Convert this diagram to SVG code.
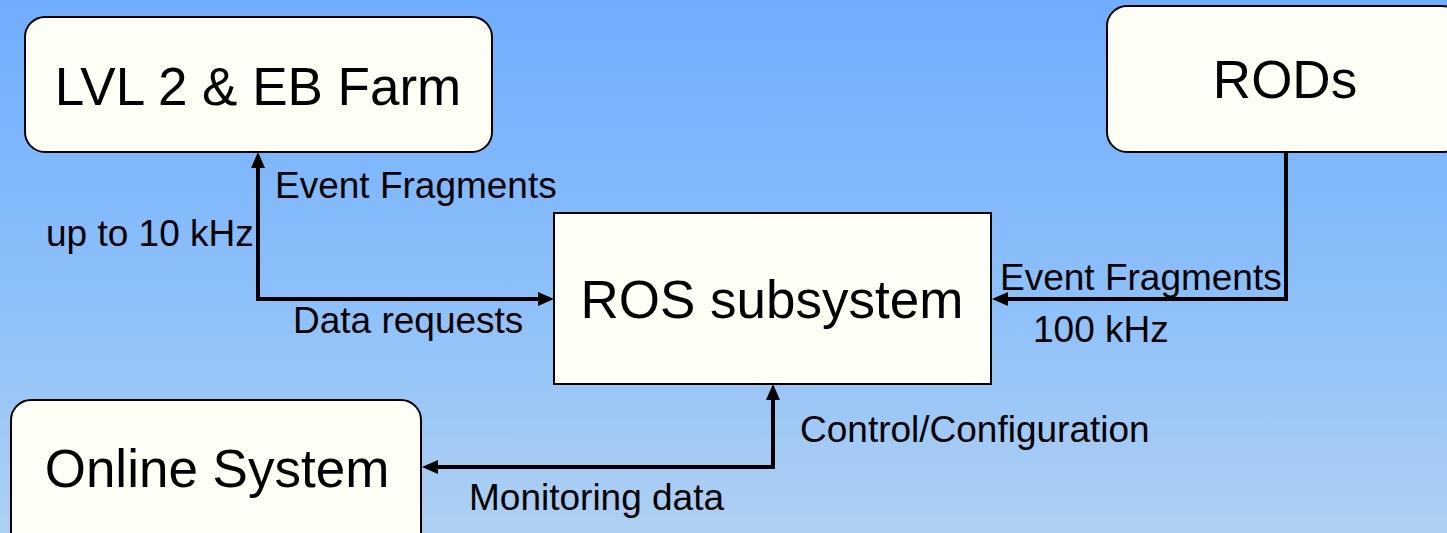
<svg xmlns="http://www.w3.org/2000/svg" width="1447" height="533" viewBox="0 0 1447 533">
<defs>
<linearGradient id="bg" x1="0" y1="0" x2="0" y2="1">
<stop offset="0" stop-color="#70adfe"/>
<stop offset="0.55" stop-color="#8cc0fa"/>
<stop offset="1" stop-color="#aed0f2"/>
</linearGradient>
<marker id="arr" markerUnits="userSpaceOnUse" markerWidth="16" markerHeight="15" refX="0" refY="7" orient="auto-start-reverse" viewBox="0 0 16 14">
<path d="M0,0 L16,7 L0,14 Z" fill="#000"/>
</marker>
<style>
.box{fill:#fffff6;stroke:#000;stroke-width:2}
.big{font-family:"Liberation Sans",Arial,sans-serif;font-size:53px;fill:#000;text-anchor:middle}
.lbl{font-family:"Liberation Sans",Arial,sans-serif;font-size:37px;fill:#000}
.con{fill:none;stroke:#000;stroke-width:4}
</style>
</defs>
<rect x="0" y="0" width="1447" height="533" fill="url(#bg)"/>
<g id="connectors">
<path class="con" d="M258,168 L258,299 L538,299" marker-start="url(#arr)" marker-end="url(#arr)"/>
<path class="con" d="M1286,152 L1286,299 L1008,299" marker-end="url(#arr)"/>
<path class="con" d="M773,400 L773,467 L438,467" marker-start="url(#arr)" marker-end="url(#arr)"/>
<text class="lbl" x="275" y="198">Event Fragments</text>
<text class="lbl" x="46" y="246">up to 10 kHz</text>
<text class="lbl" x="293" y="333">Data requests</text>
<text class="lbl" x="1000" y="290">Event Fragments</text>
<text class="lbl" x="1033" y="342">100 kHz</text>
<text class="lbl" x="800" y="442">Control/Configuration</text>
<text class="lbl" x="469" y="510">Monitoring data</text>
</g>
<g id="lvl2">
<rect class="box" x="25" y="17" width="467" height="135" rx="20"/>
<text class="big" x="258" y="105">LVL 2 &amp; EB Farm</text>
</g>
<g id="rods">
<rect class="box" x="1107" y="6" width="355" height="146" rx="20"/>
<text class="big" x="1285" y="98">RODs</text>
</g>
<g id="ros">
<rect class="box" x="554" y="213" width="437" height="171"/>
<text class="big" x="772" y="318">ROS subsystem</text>
</g>
<g id="online">
<rect class="box" x="11" y="400" width="410" height="160" rx="20"/>
<text class="big" x="217" y="487">Online System</text>
</g>
</svg>
